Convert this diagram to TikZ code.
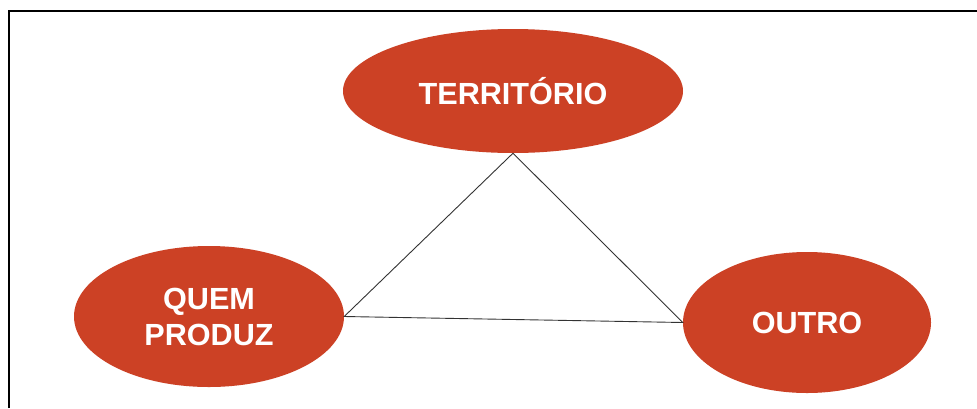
\documentclass[tikz,border=0pt]{standalone}
\usepackage{fontspec}
\setmainfont{Liberation Sans}
\usetikzlibrary{shapes.geometric}
\definecolor{blob}{HTML}{CC4125}
\definecolor{linkc}{HTML}{333333}
\tikzset{
  blobnode/.style={ellipse, fill=blob, draw=none, inner sep=0pt, text=white,
    font=\fontsize{30.6}{36}\selectfont\bfseries, align=center},
  link/.style={draw=linkc, line width=0.9pt}
}
\begin{document}
\begin{tikzpicture}[x=1pt,y=-1pt]
\useasboundingbox (0,0) rectangle (977,408);
\fill[white] (0,0) rectangle (977,408);
\draw[line width=2.2pt] (8.8,408) -- (8.8,10.6) -- (977,10.6);
\node[blobnode, minimum width=340pt, minimum height=124pt] (terr) at (513,91) {TERRITÓRIO};
\node[blobnode, minimum width=270pt, minimum height=141pt] (quem) at (209,316.5) {QUEM\\PRODUZ};
\node[blobnode, minimum width=248pt, minimum height=141pt] (outro) at (807,322.5) {OUTRO};
\draw[link] (terr.south) -- (quem.east) -- (outro.west) -- (terr.south);
\end{tikzpicture}
\end{document}
